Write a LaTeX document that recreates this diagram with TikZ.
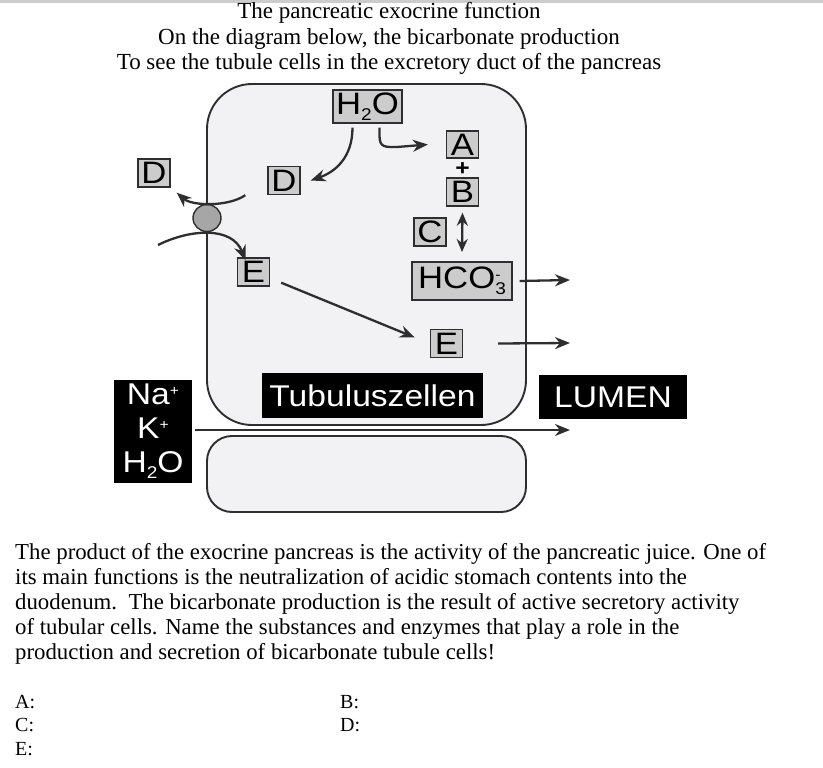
\documentclass[tikz,border=0pt]{standalone}
\usepackage{fontspec}
\setmainfont{Liberation Serif}
\newfontfamily\diagfont[FakeStretch=1.12]{Liberation Sans}
\usetikzlibrary{arrows.meta,shapes.geometric}

\definecolor{cellfill}{HTML}{F2F2F4}
\definecolor{boxgray}{HTML}{CCCCCC}
\definecolor{linecol}{HTML}{2E2E2E}

% small indices in the diagram
\newcommand{\lowidx}[1]{\raisebox{-6pt}{\fontsize{17}{17}\selectfont #1}}
\newcommand{\highidx}[1]{\raisebox{9pt}{\fontsize{14}{14}\selectfont #1}}

\tikzset{
  arr/.style={draw=linecol, line width=2.3pt, -{Stealth[length=15pt,width=12pt]}},
  subst/.style={draw=linecol, fill=boxgray, line width=1.4pt, inner sep=0pt,
    minimum width=32pt, minimum height=28pt, font=\diagfont\fontsize{31}{31}\selectfont},
  blacklabel/.style={fill=black, text=white, inner sep=0pt,
    font=\diagfont\fontsize{30}{34}\selectfont},
  cell/.style={draw=linecol, fill=cellfill, line width=1.9pt},
  serif/.style={anchor=base west, inner sep=0pt}
}

\begin{document}
\begin{tikzpicture}[x=1pt,y=-1pt]
\useasboundingbox (0,0) rectangle (823,768);

% top shadow line
\draw[gray!40, line width=3pt] (0,2) -- (823,2);

% heading
\node[inner sep=0pt, anchor=base, font=\fontsize{23}{25}\selectfont] (t1) at (389,19) {The pancreatic exocrine function};
\node[inner sep=0pt, anchor=base, font=\fontsize{23}{25}\selectfont] (t2) at (389,45) {On the diagram below, the bicarbonate production};
\node[inner sep=0pt, anchor=base, font=\fontsize{23}{25}\selectfont] (t3) at (389,70) {To see the tubule cells in the excretory duct of the pancreas};

% cells
\draw[cell, rounded corners=45pt] (207,84) rectangle (526,425);
\draw[cell, rounded corners=25pt] (207,436) rectangle (526,512);

% carrier in the membrane
\node[draw=linecol, fill=gray!70, line width=1.4pt, ellipse, minimum width=28pt, minimum height=27pt, inner sep=0pt] (carrier) at (207,218) {};

% substances
\node[subst, minimum width=69pt, minimum height=33pt] (water) at (367.5,106.5) {H\lowidx{2}O};
\node[subst, minimum height=27pt] (a) at (462.5,144.5) {A};
\node[font=\diagfont\fontsize{22}{22}\selectfont\bfseries, inner sep=0pt, text height=15pt, text depth=0pt] (plus) at (462.5,168) {+};
\node[subst] (b) at (462.5,192) {B};
\node[subst] (c) at (430,232) {C};
\node[subst, minimum width=100pt, minimum height=38pt] (hco) at (462,281) {HCO\rlap{\highidx{-}}\lowidx{3}};
\node[subst] (dout) at (154,173) {D};
\node[subst] (din) at (284,180.5) {D};
\node[subst] (eup) at (253.5,272) {E};
\node[subst] (edown) at (446.5,343.5) {E};

% labels
\node[blacklabel, minimum width=221pt, minimum height=45pt] (tubulus) at (372.5,395.5) {Tubuluszellen};
\node[blacklabel, minimum width=148pt, minimum height=44pt] (lumen) at (613,397) {LUMEN};
\node[blacklabel, minimum width=78pt, minimum height=103pt, align=center] (ions) at (153,431.5) {Na\highidx{+}\\K\highidx{+}\\H\lowidx{2}O};

% arrows inside the cell
\draw[arr] ([xshift=-15pt]water.south) ++(0,4) .. controls +(0,30) and (335,172) .. ([xshift=10pt]din.east);
\draw[arr] ([xshift=12pt]water.south) ++(0,4) -- ++(0,8) .. controls +(0,12) and (385,147) .. (397,147) -- ([xshift=-18pt]a.west);
\draw[draw=linecol, line width=2.3pt, {Stealth[length=13pt,width=11pt]}-{Stealth[length=13pt,width=11pt]}] ([yshift=-6pt]b.south) -- (462,252);
\draw[arr] ([xshift=-22pt]din.south west) .. controls (228,207) and (192,206) .. ([xshift=6pt,yshift=-5pt]dout.south east);
\draw[arr] (158,245) .. controls (190,229) and (232,226) .. ([xshift=-8pt,yshift=-3pt]eup.north);
\draw[arr] ([xshift=11pt,yshift=4pt]eup.south east) -- ([xshift=-15pt,yshift=6pt]edown.west);

% secretion into the lumen
\draw[arr] ([xshift=7pt]hco.east) -- (570,280);
\draw[arr] ([xshift=35pt]edown.east) -- (570,343);
\draw[arr] ([xshift=3pt]ions.east |- 0,430) -- (570,430);

% question text
\foreach \txt [count=\i] in {
  {The product of the exocrine pancreas is the activity of the pancreatic juice. One of},
  {its main functions is the neutralization of acidic stomach contents into the},
  {duodenum.\ \ The bicarbonate production is the result of active secretory activity},
  {of tubular cells. Name the substances and enzymes that play a role in the},
  {production and secretion of bicarbonate tubule cells!}}
  \node[serif, font=\fontsize{22.8}{25}\selectfont] (q\i) at (15,534+25*\i) {\txt};

% answers
\node[serif, font=\fontsize{20}{20}\selectfont] (ansa) at (15,708) {A:};
\node[serif, font=\fontsize{20}{20}\selectfont] (ansc) at (15,731) {C:};
\node[serif, font=\fontsize{20}{20}\selectfont] (anse) at (15,755) {E:};
\node[serif, font=\fontsize{20}{20}\selectfont] (ansb) at (340,708) {B:};
\node[serif, font=\fontsize{20}{20}\selectfont] (ansd) at (340,731) {D:};
\end{tikzpicture}
\end{document}
